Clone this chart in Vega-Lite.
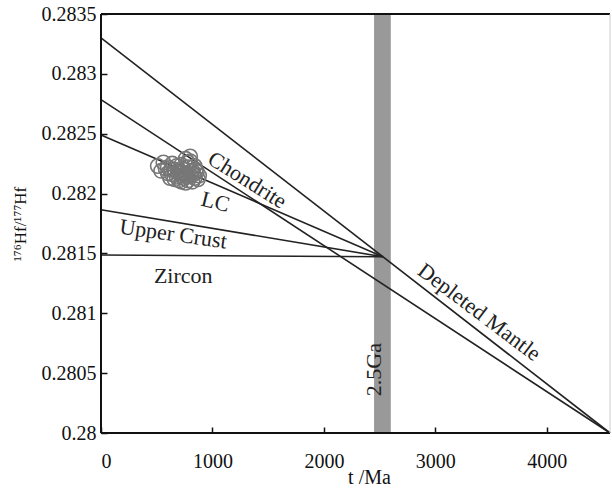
{
  "$schema": "https://vega.github.io/schema/vega-lite/v6.json",
  "autosize": {"type": "none"},
  "width": 509,
  "height": 419,
  "padding": {"left": 101, "top": 14, "right": 2, "bottom": 55},
  "background": "white",
  "config": {
    "view": {"stroke": null},
    "font": "Liberation Serif",
    "axis": {"grid": false, "domain": false, "ticks": true, "tickColor": "#111", "tickWidth": 1.5, "labelFont": "Liberation Serif", "titleFont": "Liberation Serif", "labelColor": "#111", "titleColor": "#111", "titleFontWeight": "normal"}
  },
  "datasets": {
    "lines": [
      {"series": "Depleted Mantle", "t": 0, "hf": 0.2833},
      {"series": "Depleted Mantle", "t": 4567, "hf": 0.28},
      {"series": "Chondrite", "t": 0, "hf": 0.282785},
      {"series": "Chondrite", "t": 4567, "hf": 0.28},
      {"series": "LC", "t": 0, "hf": 0.28249},
      {"series": "LC", "t": 2530, "hf": 0.281472},
      {"series": "Upper Crust", "t": 0, "hf": 0.281865},
      {"series": "Upper Crust", "t": 2530, "hf": 0.281472},
      {"series": "Zircon", "t": 0, "hf": 0.281487},
      {"series": "Zircon", "t": 2530, "hf": 0.281472}
    ],
    "samples": [
      {"t": 510, "hf": 0.28223}, {"t": 540, "hf": 0.28219}, {"t": 560, "hf": 0.28226},
      {"t": 600, "hf": 0.28222}, {"t": 600, "hf": 0.28217}, {"t": 640, "hf": 0.28225},
      {"t": 640, "hf": 0.28216}, {"t": 660, "hf": 0.28220}, {"t": 680, "hf": 0.28223},
      {"t": 680, "hf": 0.28214}, {"t": 700, "hf": 0.28219}, {"t": 700, "hf": 0.28211},
      {"t": 720, "hf": 0.28224}, {"t": 720, "hf": 0.28215}, {"t": 740, "hf": 0.28220},
      {"t": 740, "hf": 0.28213}, {"t": 760, "hf": 0.28229}, {"t": 760, "hf": 0.28217},
      {"t": 780, "hf": 0.28222}, {"t": 780, "hf": 0.28211}, {"t": 800, "hf": 0.28227},
      {"t": 800, "hf": 0.28215}, {"t": 820, "hf": 0.28219}, {"t": 820, "hf": 0.28210},
      {"t": 840, "hf": 0.28223}, {"t": 840, "hf": 0.28213}, {"t": 860, "hf": 0.28218},
      {"t": 870, "hf": 0.28212}, {"t": 880, "hf": 0.28215}, {"t": 620, "hf": 0.28213},
      {"t": 660, "hf": 0.28212}, {"t": 760, "hf": 0.28209}, {"t": 800, "hf": 0.28231},
      {"t": 580, "hf": 0.28221}, {"t": 720, "hf": 0.28210}, {"t": 690, "hf": 0.28218},
      {"t": 750, "hf": 0.28216}, {"t": 810, "hf": 0.28218}, {"t": 630, "hf": 0.28220},
      {"t": 850, "hf": 0.28220}, {"t": 780, "hf": 0.28226}, {"t": 710, "hf": 0.28217},
      {"t": 770, "hf": 0.28214}, {"t": 830, "hf": 0.28216}
    ]
  },
  "layer": [
    {
      "data": {"values": [{"t0": 2450, "t1": 2600}]},
      "mark": {"type": "rect", "color": "#999999"},
      "encoding": {
        "x": {"field": "t0", "type": "quantitative", "scale": {"domain": [0, 4567], "nice": false, "zero": false},
          "axis": {"values": [0, 1000, 2000, 3000, 4000], "format": "d", "title": "t /Ma", "tickSize": -6, "labelPadding": 24, "labelFontSize": 20, "titleFontSize": 20, "titleFontStyle": "normal", "titlePadding": -4, "titleX": 268}},
        "x2": {"field": "t1"}
      }
    },
    {
      "data": {"name": "lines"},
      "mark": {"type": "line", "color": "#222", "strokeWidth": 1.6},
      "encoding": {
        "x": {"field": "t", "type": "quantitative"},
        "y": {"field": "hf", "type": "quantitative", "scale": {"domain": [0.28, 0.2835], "nice": false, "zero": false},
          "axis": {"values": [0.28, 0.2805, 0.281, 0.2815, 0.282, 0.2825, 0.283, 0.2835], "format": ".4~f", "title": "¹⁷⁶Hf/¹⁷⁷Hf", "tickSize": -6, "labelPadding": 11, "labelFontSize": 20, "titleFontSize": 17, "titlePadding": 12}},
        "detail": {"field": "series", "type": "nominal"}
      }
    },
    {
      "data": {"name": "samples"},
      "mark": {"type": "point", "shape": "circle", "filled": false, "stroke": "#777777", "strokeWidth": 1.6, "size": 210, "opacity": 1},
      "encoding": {
        "x": {"field": "t", "type": "quantitative"},
        "y": {"field": "hf", "type": "quantitative"}
      }
    },
    {
      "data": {"values": [{"label": "Chondrite", "t": 1312, "hf": 0.282113}]},
      "mark": {"type": "text", "angle": 32, "fontSize": 22, "font": "Liberation Serif", "color": "#222"},
      "encoding": {"x": {"field": "t", "type": "quantitative"}, "y": {"field": "hf", "type": "quantitative"}, "text": {"field": "label"}}
    },
    {
      "data": {"values": [{"label": "LC", "t": 1027, "hf": 0.28193}]},
      "mark": {"type": "text", "angle": 14, "fontSize": 22, "font": "Liberation Serif", "color": "#222"},
      "encoding": {"x": {"field": "t", "type": "quantitative"}, "y": {"field": "hf", "type": "quantitative"}, "text": {"field": "label"}}
    },
    {
      "data": {"values": [{"label": "Upper Crust", "t": 648, "hf": 0.281662}]},
      "mark": {"type": "text", "angle": 8, "fontSize": 22, "font": "Liberation Serif", "color": "#222"},
      "encoding": {"x": {"field": "t", "type": "quantitative"}, "y": {"field": "hf", "type": "quantitative"}, "text": {"field": "label"}}
    },
    {
      "data": {"values": [{"label": "Zircon", "t": 738, "hf": 0.281311}]},
      "mark": {"type": "text", "angle": 0, "fontSize": 22, "font": "Liberation Serif", "color": "#222"},
      "encoding": {"x": {"field": "t", "type": "quantitative"}, "y": {"field": "hf", "type": "quantitative"}, "text": {"field": "label"}}
    },
    {
      "data": {"values": [{"label": "Depleted Mantle", "t": 3394, "hf": 0.28101}]},
      "mark": {"type": "text", "angle": 37, "fontSize": 22, "font": "Liberation Serif", "color": "#222"},
      "encoding": {"x": {"field": "t", "type": "quantitative"}, "y": {"field": "hf", "type": "quantitative"}, "text": {"field": "label"}}
    },
    {
      "data": {"values": [{"label": "2.5Ga", "t": 2451, "hf": 0.28053}]},
      "mark": {"type": "text", "angle": 270, "fontSize": 22, "font": "Liberation Serif", "color": "#222"},
      "encoding": {"x": {"field": "t", "type": "quantitative"}, "y": {"field": "hf", "type": "quantitative"}, "text": {"field": "label"}}
    },
    {
      "data": {"values": [{"edge": "bottom", "hf": 0.28}, {"edge": "top", "hf": 0.2835}]},
      "mark": {"type": "rule", "color": "#111", "strokeWidth": 2},
      "encoding": {"y": {"field": "hf", "type": "quantitative"}}
    },
    {
      "data": {"values": [{"edge": "left", "t": 0}]},
      "mark": {"type": "rule", "color": "#111", "strokeWidth": 2},
      "encoding": {"x": {"field": "t", "type": "quantitative"}}
    },
    {
      "data": {"values": [{"edge": "right", "t": 4567}]},
      "mark": {"type": "rule", "color": "#cccccc", "strokeWidth": 1},
      "encoding": {"x": {"field": "t", "type": "quantitative"}}
    }
  ]
}
